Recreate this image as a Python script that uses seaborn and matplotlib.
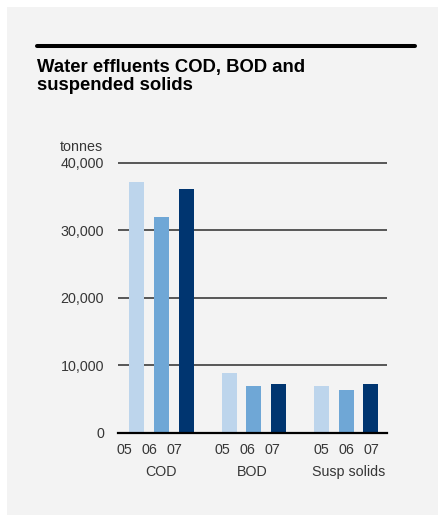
import pandas as pd
import matplotlib
matplotlib.use("Agg")
import matplotlib.pyplot as plt
import matplotlib.patches as mpatches
import matplotlib.lines as mlines
import seaborn as sns

# data (tonnes)
groups = ["COD", "BOD", "Susp solids"]
years = ["05", "06", "07"]
cod = [37100, 32000, 36100]
bod = [8800, 6900, 7200]
susp = [6900, 6300, 7200]
yticks = [0, 10000, 20000, 30000, 40000]
ytick_labels = ["0", "10,000", "20,000", "30,000", "40,000"]

rows = []
for g, vals in zip(groups, [cod, bod, susp]):
    for y, v in zip(years, vals):
        rows.append({"group": g, "year": y, "tonnes": v})
df = pd.DataFrame(rows)

palette = {"05": "#bdd5ec", "06": "#6fa7d6", "07": "#003570"}
txt = "#363636"

sns.set_style("white")
plt.rcParams["font.family"] = ["Liberation Sans", "DejaVu Sans"]

fig = plt.figure(figsize=(4.39, 5.15), dpi=100)
fig.patch.set_facecolor("white")
W, H = 439, 515

# grey panel behind everything
fig.patches.append(mpatches.Rectangle((7 / W, 0), 1 - 7 / W, 1 - 7 / H,
                                      transform=fig.transFigure,
                                      facecolor="#f3f3f3", edgecolor="none", zorder=-5))
# black rule at the top
fig.lines.append(mlines.Line2D([37 / W, 415 / W], [1 - 45.7 / H, 1 - 45.7 / H],
                               transform=fig.transFigure, color="black", lw=2.9))

fig.text(37 / W, 1 - 59 / H, "Water effluents COD, BOD and\nsuspended solids",
         ha="left", va="top", fontsize=13.3, fontweight="bold", color="black",
         linespacing=1.08)

ax = fig.add_axes([118 / W, 1 - 432.7 / H, 269 / W, 270.5 / H])
ax.set_facecolor("none")

sns.barplot(data=df, x="group", y="tonnes", hue="year", palette=palette,
            width=0.8, gap=0.39, legend=False, ax=ax, zorder=3, saturation=1,
            linewidth=0, edgecolor="none")

ax.set_ylim(0, 40080)
ax.set_xlim(-0.47, 2.44)
ax.set_yticks(yticks)
ax.set_yticklabels(ytick_labels)
ax.yaxis.grid(True, color="#3c3c3c", lw=1.2, zorder=1)
ax.set_axisbelow(True)
for s in ["top", "right", "left"]:
    ax.spines[s].set_visible(False)
ax.spines["bottom"].set_color("black")
ax.spines["bottom"].set_linewidth(1.6)
ax.spines["bottom"].set_zorder(4)
ax.tick_params(axis="y", length=0, pad=10, labelsize=10.3, labelcolor=txt)
ax.set_xlabel("")
ax.set_ylabel("")

# year labels under each bar (set slightly left in the original), group names beneath
centers = []
for p in ax.patches:
    if p.get_height() > 0:
        centers.append(p.get_x() + p.get_width() / 2)
centers = sorted(centers)
shift = [-0.13] * 3 + [-0.07] * 3 + [0.0] * 3
ax.set_xticks([c + s for c, s in zip(centers, shift)])
ax.set_xticklabels(years * len(groups))
ax.tick_params(axis="x", length=0, pad=7.5, labelsize=10.3, labelcolor=txt)

group_x = [0, -0.02, 0.03]
for i, g in enumerate(groups):
    ax.text(i + group_x[i], -0.12, g, transform=ax.get_xaxis_transform(), ha="center",
            va="top", fontsize=10.3, color=txt)

fig.text(60 / W, 1 - 151 / H, "tonnes", ha="left", va="baseline", fontsize=10.3, color=txt)

fig.savefig("out.png", dpi=100)
